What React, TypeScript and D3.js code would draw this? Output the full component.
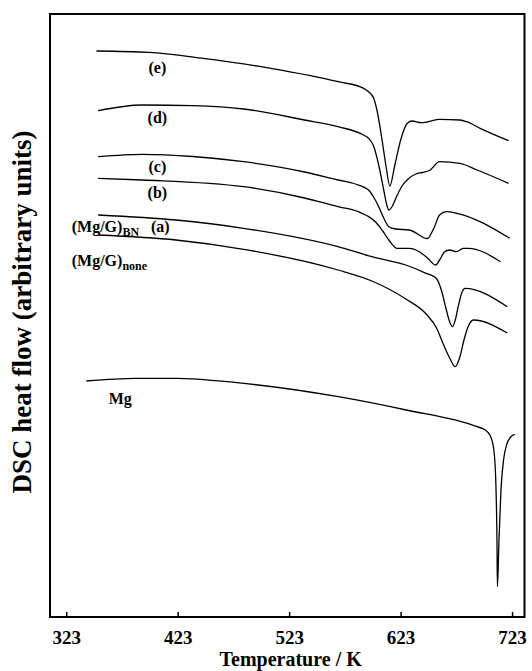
import React from "react";
import * as d3 from "d3";

// Temperature (K) and DSC heat flow (arbitrary units)
const tempE = [349.7, 396.8, 445.3, 506.1, 566.7, 589.5, 593.8, 598.3, 601.3, 605.9, 609.3, 612.9, 617.4, 622.6, 628.6, 632.9, 640.9, 646.6, 657.5, 675.7, 681.8, 693.9, 719.4];
const flowE = [56.6, 56.47, 55.87, 54.87, 53.53, 52.87, 52.53, 51.9, 50.7, 47.7, 45.2, 43.1, 45.2, 47.7, 49.37, 49.6, 49.43, 49.5, 49.77, 49.7, 49.53, 48.87, 47.63];

const tempD = [351.2, 390.7, 436.2, 481.7, 536.4, 566.4, 589.2, 593.8, 598.3, 602.9, 607.4, 610.2, 612.0, 614.7, 618.4, 623.8, 629.3, 636.3, 642.0, 648.4, 657.5, 675.7, 691.2, 719.4];
const flowD = [50.63, 51.2, 51.13, 50.8, 49.7, 49.03, 48.2, 47.87, 47.1, 45.2, 42.7, 41.2, 40.7, 41.0, 41.9, 43.1, 43.8, 44.3, 44.45, 44.65, 45.53, 45.37, 44.7, 43.37];

const tempC = [351.2, 390.7, 436.2, 481.7, 536.4, 566.4, 581.9, 593.8, 598.3, 602.9, 607.4, 612.0, 618.1, 630.2, 639.3, 643.9, 646.9, 650.2, 653.0, 657.5, 663.9, 673.0, 720.4];
const flowC = [46.03, 46.27, 46.05, 45.53, 44.5, 43.7, 43.3, 42.7, 42.0, 41.03, 39.9, 39.03, 38.8, 38.7, 38.2, 37.9, 37.85, 38.4, 39.03, 40.2, 40.53, 40.37, 37.87];

const tempB = [351.2, 390.7, 481.7, 536.4, 566.4, 584.7, 592.9, 600.1, 606.5, 612.0, 619.5, 630.2, 639.3, 646.9, 653.9, 657.5, 662.1, 666.6, 672.7, 678.7, 683.3, 712.2];
const flowB = [43.87, 43.7, 43.03, 41.9, 41.03, 40.53, 40.1, 39.5, 38.6, 37.7, 36.87, 36.87, 36.53, 35.87, 35.2, 35.7, 36.53, 36.7, 36.53, 36.87, 36.87, 35.53];

const tempA = [351.2, 421.0, 481.7, 566.4, 596.8, 627.2, 645.4, 654.5, 659.1, 663.6, 666.6, 669.1, 671.6, 674.2, 677.3, 680.3, 718.3];
const flowA = [40.2, 39.7, 38.87, 37.03, 36.03, 35.2, 34.37, 33.87, 32.7, 30.7, 29.5, 29.03, 29.7, 31.03, 32.37, 32.87, 31.03];

const tempNone = [351.2, 421.0, 481.7, 566.4, 596.8, 627.2, 645.4, 654.8, 661.2, 666.6, 671.5, 675.7, 679.4, 683.0, 687.8, 718.3];
const flowNone = [38.2, 37.7, 36.77, 34.7, 33.6, 31.8, 30.3, 28.9, 27.2, 25.9, 25.03, 26.0, 27.7, 29.0, 29.7, 28.4];

const tempMg = [340.6, 384.6, 421.0, 475.6, 566.7, 627.5, 691.2, 698.5, 703.1, 706.2, 707.9, 709.0, 709.4, 710.8, 712.6, 714.9, 717.6, 721.3, 724.9];
const flowMg = [23.6, 23.87, 23.87, 23.43, 22.03, 20.7, 19.03, 18.7, 18.1, 16.7, 13.7, 7.7, 3.03, 7.7, 12.7, 15.7, 17.2, 18.0, 18.27];

const xTicks = [323, 423, 523, 623, 723];

const series = [
  { name: "e", t: tempE, f: flowE },
  { name: "d", t: tempD, f: flowD },
  { name: "c", t: tempC, f: flowC },
  { name: "b", t: tempB, f: flowB },
  { name: "a", t: tempA, f: flowA },
  { name: "none", t: tempNone, f: flowNone },
  { name: "Mg", t: tempMg, f: flowMg },
];

const W = 532;
const H = 671;
const left = 50;
const right = 524.5;
const top = 14;
const bottom = 617;
const FONT = "'Liberation Serif', 'Times New Roman', Times, serif";

export default function App() {
  const x = d3.scaleLinear().domain([308.0, 733.7]).range([left, right]);
  const y = d3.scaleLinear().domain([0, 60.3]).range([bottom, top]);
  const line = d3
    .line<[number, number]>()
    .x((d) => x(d[0]))
    .y((d) => y(d[1]))
    .curve(d3.curveMonotoneX);

  const lbl = { fontFamily: FONT, fontWeight: 700, fontSize: 16, fill: "#000" } as const;

  return (
    <svg
      width={W}
      height={H}
      viewBox={`0 0 ${W} ${H}`}
      style={{ position: "absolute", left: 0, top: 0, background: "#fff" }}
    >
      <rect x={0} y={0} width={W} height={H} fill="#fff" />
      {series.map((s) => (
        <path
          key={s.name}
          d={line(s.t.map((t, i) => [t, s.f[i]] as [number, number])) || ""}
          fill="none"
          stroke="#000"
          strokeWidth={1.3}
        />
      ))}
      <rect
        x={left}
        y={top}
        width={right - left}
        height={bottom - top}
        fill="none"
        stroke="#000"
        strokeWidth={2}
      />
      {xTicks.map((t) => (
        <g key={t}>
          <line x1={x(t)} x2={x(t)} y1={bottom} y2={bottom - 5} stroke="#000" strokeWidth={1.5} />
          <text
            x={x(t)}
            y={644}
            textAnchor="middle"
            style={{ fontFamily: FONT, fontWeight: 700, fontSize: 19 }}
          >
            {t}
          </text>
        </g>
      ))}
      <text
        x={x(523) + 1}
        y={666}
        textAnchor="middle"
        style={{ fontFamily: FONT, fontWeight: 700, fontSize: 20 }}
      >
        Temperature / K
      </text>
      <text
        transform={`translate(31, 312) rotate(-90)`}
        textAnchor="middle"
        style={{ fontFamily: FONT, fontWeight: 700, fontSize: 27 }}
      >
        DSC heat flow (arbitrary units)
      </text>

      <text x={x(404.3)} y={y(54.4)} textAnchor="middle" style={lbl}>(e)</text>
      <text x={x(404.3)} y={y(49.4)} textAnchor="middle" style={lbl}>(d)</text>
      <text x={x(404.3)} y={y(44.5)} textAnchor="middle" style={lbl}>(c)</text>
      <text x={x(404.3)} y={y(41.9)} textAnchor="middle" style={lbl}>(b)</text>
      <text x={x(327.5)} y={y(38.53)} style={lbl}>
        (Mg/G)
        <tspan fontSize={12} dy={4}>BN</tspan>
      </text>
      <text x={x(407.0)} y={y(38.53)} textAnchor="middle" style={lbl}>(a)</text>
      <text x={x(327.5)} y={y(35.1)} style={lbl}>
        (Mg/G)
        <tspan fontSize={12} dy={4}>none</tspan>
      </text>
      <text x={x(371.0)} y={y(21.3)} textAnchor="middle" style={lbl}>Mg</text>
    </svg>
  );
}
